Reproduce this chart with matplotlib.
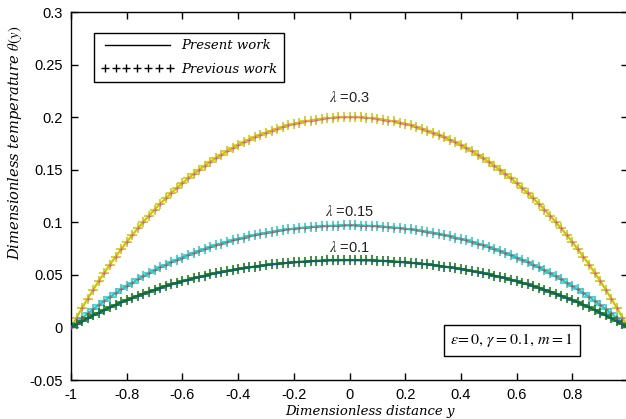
import numpy as np
import matplotlib
matplotlib.use("Agg")
import matplotlib.pyplot as plt
from matplotlib.lines import Line2D

plt.rcParams['mathtext.fontset'] = 'stix'
plt.rcParams['font.family'] = ['Liberation Sans', 'DejaVu Sans']

# Dimensionless distance, sampled every 0.02 over the channel width
y_pos = np.round(np.linspace(-1.0, 1.0, 101), 2)

# Temperature profiles theta(y) for each lambda
theta_03 = [
    0.0000, 0.0094, 0.0186, 0.0274, 0.0359, 0.0442, 0.0521, 0.0598, 0.0672, 0.0743,
    0.0812, 0.0879, 0.0942, 0.1004, 0.1063, 0.1120, 0.1175, 0.1227, 0.1278, 0.1326,
    0.1372, 0.1417, 0.1459, 0.1499, 0.1538, 0.1575, 0.1610, 0.1644, 0.1675, 0.1705,
    0.1734, 0.1761, 0.1786, 0.1810, 0.1832, 0.1853, 0.1872, 0.1890, 0.1907, 0.1922,
    0.1935, 0.1948, 0.1959, 0.1968, 0.1977, 0.1984, 0.1990, 0.1994, 0.1997, 0.1999,
    0.2000,
    0.1999, 0.1997, 0.1994, 0.1990, 0.1984, 0.1977, 0.1968, 0.1959, 0.1948, 0.1935,
    0.1922, 0.1907, 0.1890, 0.1872, 0.1853, 0.1832, 0.1810, 0.1786, 0.1761, 0.1734,
    0.1705, 0.1675, 0.1644, 0.1610, 0.1575, 0.1538, 0.1499, 0.1459, 0.1417, 0.1372,
    0.1326, 0.1278, 0.1227, 0.1175, 0.1120, 0.1063, 0.1004, 0.0942, 0.0879, 0.0812,
    0.0743, 0.0672, 0.0598, 0.0521, 0.0442, 0.0359, 0.0274, 0.0186, 0.0094, 0.0000,
]
theta_015 = [
    0.0000, 0.0046, 0.0090, 0.0133, 0.0174, 0.0214, 0.0253, 0.0290, 0.0326, 0.0361,
    0.0394, 0.0426, 0.0457, 0.0487, 0.0516, 0.0543, 0.0570, 0.0595, 0.0620, 0.0643,
    0.0665, 0.0687, 0.0708, 0.0727, 0.0746, 0.0764, 0.0781, 0.0797, 0.0813, 0.0827,
    0.0841, 0.0854, 0.0866, 0.0878, 0.0889, 0.0899, 0.0908, 0.0917, 0.0925, 0.0932,
    0.0939, 0.0945, 0.0950, 0.0955, 0.0959, 0.0962, 0.0965, 0.0967, 0.0969, 0.0970,
    0.0970,
    0.0970, 0.0969, 0.0967, 0.0965, 0.0962, 0.0959, 0.0955, 0.0950, 0.0945, 0.0939,
    0.0932, 0.0925, 0.0917, 0.0908, 0.0899, 0.0889, 0.0878, 0.0866, 0.0854, 0.0841,
    0.0827, 0.0813, 0.0797, 0.0781, 0.0764, 0.0746, 0.0727, 0.0708, 0.0687, 0.0665,
    0.0643, 0.0620, 0.0595, 0.0570, 0.0543, 0.0516, 0.0487, 0.0457, 0.0426, 0.0394,
    0.0361, 0.0326, 0.0290, 0.0253, 0.0214, 0.0174, 0.0133, 0.0090, 0.0046, 0.0000,
]
theta_01 = [
    0.0000, 0.0030, 0.0059, 0.0088, 0.0115, 0.0141, 0.0167, 0.0191, 0.0215, 0.0238,
    0.0260, 0.0281, 0.0302, 0.0321, 0.0340, 0.0358, 0.0376, 0.0393, 0.0409, 0.0424,
    0.0439, 0.0453, 0.0467, 0.0480, 0.0492, 0.0504, 0.0515, 0.0526, 0.0536, 0.0546,
    0.0555, 0.0563, 0.0571, 0.0579, 0.0586, 0.0593, 0.0599, 0.0605, 0.0610, 0.0615,
    0.0619, 0.0623, 0.0627, 0.0630, 0.0633, 0.0635, 0.0637, 0.0638, 0.0639, 0.0640,
    0.0640,
    0.0640, 0.0639, 0.0638, 0.0637, 0.0635, 0.0633, 0.0630, 0.0627, 0.0623, 0.0619,
    0.0615, 0.0610, 0.0605, 0.0599, 0.0593, 0.0586, 0.0579, 0.0571, 0.0563, 0.0555,
    0.0546, 0.0536, 0.0526, 0.0515, 0.0504, 0.0492, 0.0480, 0.0467, 0.0453, 0.0439,
    0.0424, 0.0409, 0.0393, 0.0376, 0.0358, 0.0340, 0.0321, 0.0302, 0.0281, 0.0260,
    0.0238, 0.0215, 0.0191, 0.0167, 0.0141, 0.0115, 0.0088, 0.0059, 0.0030, 0.0000,
]

lambda_labels = [r'$\lambda$ =0.3', r'$\lambda$ =0.15', r'$\lambda$ =0.1']
x_ticks = [-1, -0.8, -0.6, -0.4, -0.2, 0, 0.2, 0.4, 0.6, 0.8, 1]
x_tick_labels = ['-1', '-0.8', '-0.6', '-0.4', '-0.2', '0', '0.2', '0.4', '0.6', '0.8', '']
y_ticks = [-0.05, 0, 0.05, 0.1, 0.15, 0.2, 0.25, 0.3]
y_tick_labels = ['-0.05', '0', '0.05', '0.1', '0.15', '0.2', '0.25', '0.3']

fig = plt.figure(figsize=(6.26, 4.19), dpi=100)
ax = fig.add_axes([71 / 626, 1 - 380 / 419, 557 / 626, 368 / 419])

series = [
    (theta_03, '#c8c800', '#f030f0', 0.219),
    (theta_015, '#20c8c8', '#f03030', 0.110),
    (theta_01, '#0a7a0a', '#2040e0', 0.076),
]
for (vals, main_c, dot_c, lab_y), lab in zip(series, lambda_labels):
    ax.plot(y_pos, vals, color=main_c, lw=1.6, zorder=2)
    ax.plot(y_pos, vals, ls='none', marker='+', ms=7.5, mew=1.4,
            color=main_c, alpha=0.8, zorder=2)
    ax.plot(y_pos, vals, ls='none', marker='+', ms=2.5, mew=0.8,
            color=dot_c, alpha=0.75, zorder=3)
    ax.text(0.0, lab_y, lab, ha='center', va='center', fontsize=10.5,
            color='#222222')

ax.set_xlim(-1, 1)
ax.set_ylim(-0.05, 0.3)
ax.set_xticks(x_ticks)
ax.set_xticklabels(x_tick_labels)
ax.set_yticks(y_ticks)
ax.set_yticklabels(y_tick_labels)
ax.tick_params(direction='in', length=5, width=1, labelsize=10.5,
               top=True, right=True, pad=6)
for sp in ax.spines.values():
    sp.set_linewidth(1.0)

lab_font = dict(family='DejaVu Serif', style='italic', fontsize=9.5)
ax.set_xlabel('Dimensionless distance y', **lab_font)
ax.xaxis.set_label_coords((370 - 71) / 557, -0.068)
ax.set_ylabel(r'Dimensionless temperature $\theta(y)$', fontsize=10.5,
              family='DejaVu Serif', style='italic')
ax.yaxis.set_label_coords(-0.085, 0.645)

handles = [
    Line2D([], [], color='black', lw=1.0),
    Line2D([], [], color='black', ls='none', marker='+', ms=6, mew=1.0),
]
leg = ax.legend(handles, ['Present work', 'Previous work'], loc='upper left',
                bbox_to_anchor=(0.03, 0.962), numpoints=7, handlelength=5.5,
                handletextpad=0.6, borderpad=0.5, labelspacing=0.8,
                fancybox=False, edgecolor='black', framealpha=1,
                prop=dict(family='DejaVu Serif', style='italic', size=9.5))
leg.get_frame().set_linewidth(1.0)

ax.text(0.583, -0.0124, r'$\epsilon\!=0,\,\gamma=0.1,\,m=1$', ha='center', va='center',
        fontsize=11.5, color='black',
        bbox=dict(boxstyle='square,pad=0.4', fc='white', ec='black', lw=1.0))

fig.savefig('out.png', dpi=100)
